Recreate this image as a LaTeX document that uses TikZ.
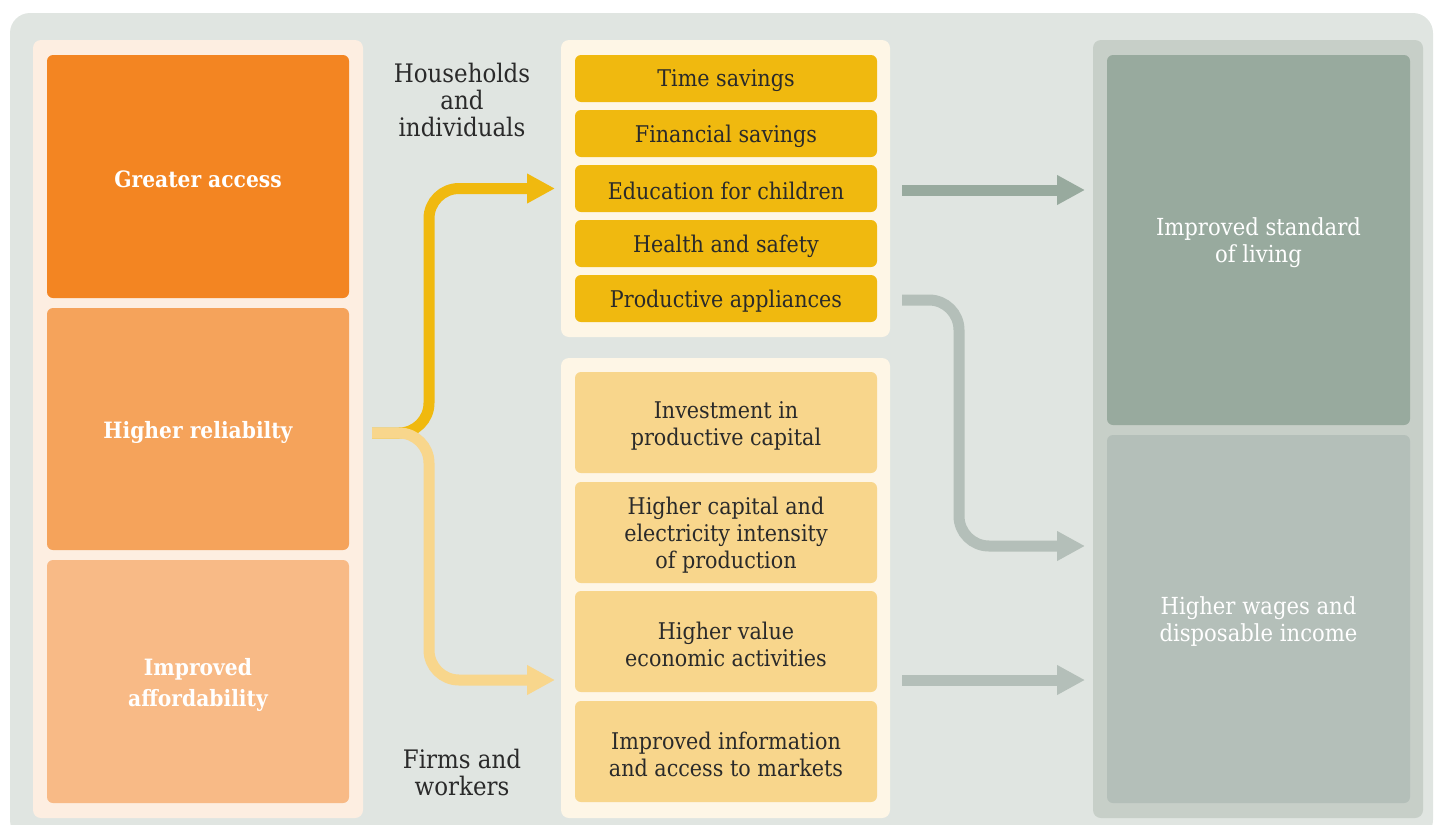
\documentclass[tikz,border=0pt]{standalone}
\usepackage{fontspec}
\setmainfont{DejaVu Serif}[FakeStretch=0.9]
\usetikzlibrary{arrows.meta}

\definecolor{canvas}{HTML}{E0E5E1}
\definecolor{ink}{HTML}{2A2A2A}
\definecolor{leftpanel}{HTML}{FDEEE1}
\definecolor{midpanel}{HTML}{FEF6E6}
\definecolor{rightpanel}{HTML}{C7CFC8}
\definecolor{orangeA}{HTML}{F38522}
\definecolor{orangeB}{HTML}{F5A35B}
\definecolor{orangeC}{HTML}{F8BA86}
\definecolor{yellowA}{HTML}{F0B90F}
\definecolor{yellowB}{HTML}{F8D68C}
\definecolor{sageA}{HTML}{98AA9E}
\definecolor{sageB}{HTML}{B4BFB9}

\begin{document}
\begin{tikzpicture}[x=1pt,y=-1pt,
  panel/.style={rounded corners=8pt},
  box/.style={rectangle, rounded corners=6pt, inner sep=0pt, minimum width=302pt},
  % captions sit slightly below the centre of their box
  boxtext/.style={align=center, inner sep=0pt, text=ink, yshift=-3pt,
    font=\fontsize{23}{27}\selectfont},
  boxtextone/.style={boxtext, yshift=0.5pt},
  drivertext/.style={boxtext, text=white, font=\bfseries\fontsize{22.5}{31}\selectfont},
  outcometext/.style={boxtext, text=white, font=\fontsize{23.5}{27}\selectfont},
  grouptext/.style={align=center, text=ink, font=\fontsize{25.5}{27}\selectfont},
  flow/.style={line width=11pt, rounded corners=30pt,
    -{Triangle[length=28pt,width=28pt]}}]

\useasboundingbox (0,0) rectangle (1436,825);

% backdrop and the three column panels
\fill[canvas, rounded corners=20pt] (10,13) rectangle (1433,840);
\fill[leftpanel, panel] (33,40) rectangle (363,818);
\fill[midpanel, panel] (561,40) rectangle (890,337);
\fill[midpanel, panel] (561,358) rectangle (890,818);
\fill[rightpanel, panel] (1093,40) rectangle (1423,818);

% drivers
\node[box, fill=orangeA, minimum height=243pt] (access) at (198,176.5) {};
\node[box, fill=orangeB, minimum height=242pt] (reliab) at (198,429) {};
\node[box, fill=orangeC, minimum height=243pt] (afford) at (198,681.5) {};
\node[drivertext] (access-t) at (access.center) {Greater access};
\node[drivertext] (reliab-t) at (reliab.center) {Higher reliabilty};
\node[drivertext] (afford-t) at (afford.center) {Improved\\affordability};

% group labels
\node[grouptext] (hh) at (462,100) {Households\\and\\individuals};
\node[grouptext] (fw) at (462,772.5) {Firms and\\workers};

% household channels
\node[box, fill=yellowA, minimum height=47pt] (time) at (726,78.5) {};
\node[box, fill=yellowA, minimum height=47pt] (fin)  at (726,133.5) {};
\node[box, fill=yellowA, minimum height=47pt] (edu)  at (726,188.5) {};
\node[box, fill=yellowA, minimum height=47pt] (hs)   at (726,243.5) {};
\node[box, fill=yellowA, minimum height=47pt] (app)  at (726,298.5) {};
\node[boxtextone] (time-t) at (time.center) {Time savings};
\node[boxtextone] (fin-t)  at (fin.center)  {Financial savings};
\node[boxtextone] (edu-t)  at (edu.center)  {Education for children};
\node[boxtextone] (hs-t)   at (hs.center)   {Health and safety};
\node[boxtextone] (app-t)  at (app.center)  {Productive appliances};

% firm channels
\node[box, fill=yellowB, minimum height=101pt] (inv) at (726,422.5) {};
\node[box, fill=yellowB, minimum height=101pt] (capi) at (726,532.5) {};
\node[box, fill=yellowB, minimum height=101pt] (val) at (726,641.5) {};
\node[box, fill=yellowB, minimum height=101pt] (mkt) at (726,751.5) {};
\node[boxtext] (inv-t)  at (inv.center)  {Investment in\\productive capital};
\node[boxtext] (capi-t) at (capi.center) {Higher capital and\\electricity intensity\\of production};
\node[boxtext] (val-t)  at (val.center)  {Higher value\\economic activities};
\node[boxtext] (mkt-t)  at (mkt.center)  {Improved information\\and access to markets};

% outcomes
\node[box, minimum width=303pt, fill=sageA, minimum height=370pt] (living) at (1258.5,240) {};
\node[box, minimum width=303pt, fill=sageB, minimum height=368pt] (wages)  at (1258.5,619) {};
\node[outcometext] (living-t) at (living.center) {Improved standard\\of living};
\node[outcometext] (wages-t)  at (wages.center)  {Higher wages and\\disposable income};

% connector end points
\coordinate (split) at (372,433);
\coordinate (hhin) at (555,188.5);
\coordinate (fwin) at (555,680);
\coordinate (eduout) at (902,190);
\coordinate (appout) at (902,300);
\coordinate (valout) at (902,680);
\coordinate (livin) at (1085,190);
\coordinate (wagin) at (1085,546);
\coordinate (wagin2) at (1085,680);

% branching flows from the drivers
\draw[flow, yellowA] (split) -- (429,433) -- (429,188.5) -- (hhin);
\draw[flow, yellowB] (split) -- (429,433) -- (429,680) -- (fwin);

% flows into the outcomes
\draw[flow, sageA] (eduout) -- (livin);
\draw[flow, sageB] (appout) -- (959,300) -- (959,546) -- (wagin);
\draw[flow, sageB] (valout) -- (wagin2);

\end{tikzpicture}
\end{document}
